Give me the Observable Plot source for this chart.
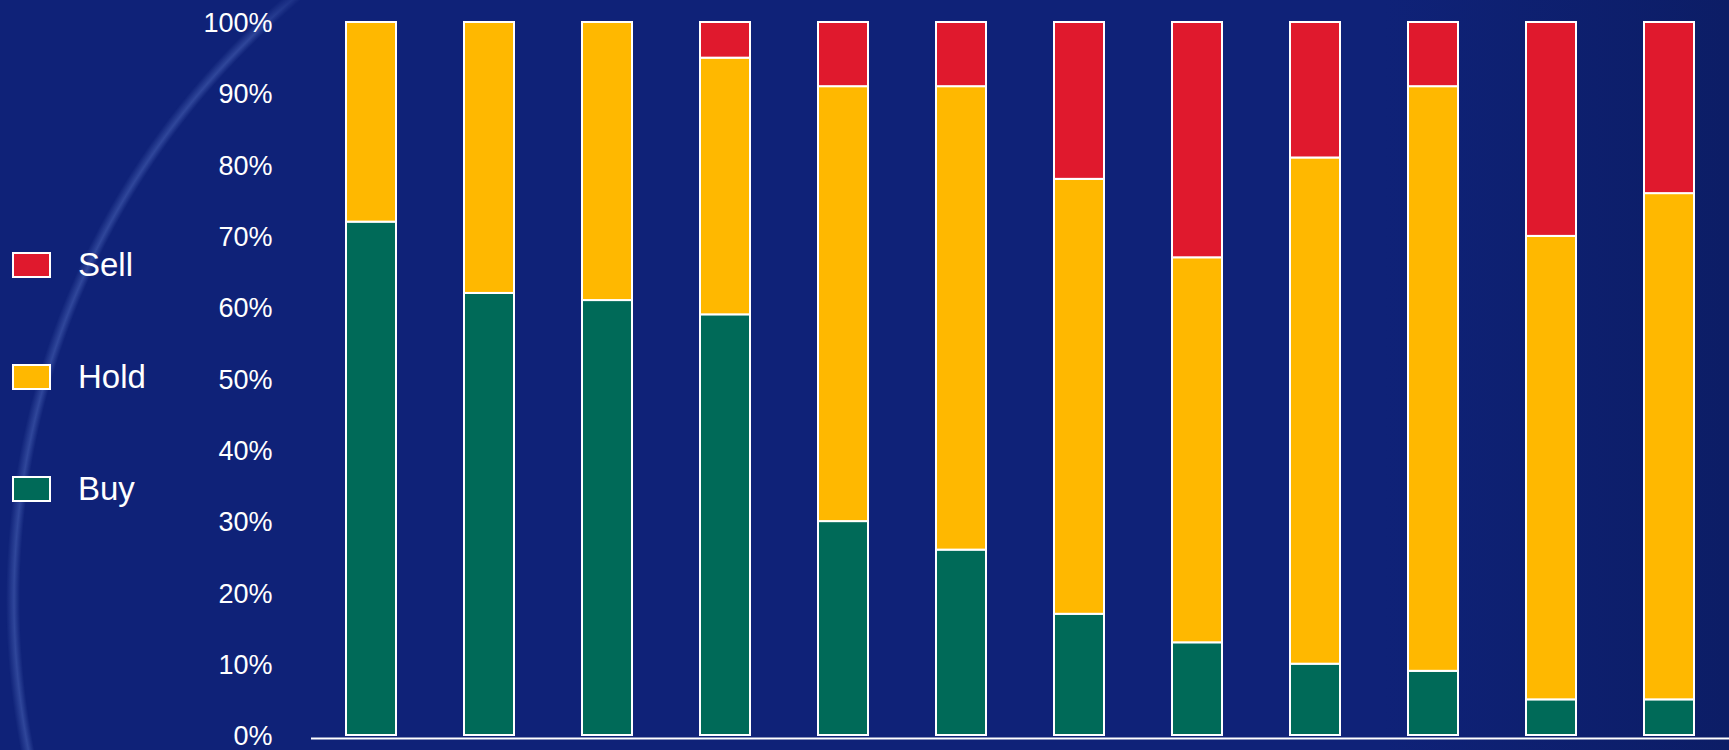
<!DOCTYPE html>
<html>
<head>
<meta charset="utf-8">
<script src="https://cdn.jsdelivr.net/npm/d3@7"></script>
<script src="https://cdn.jsdelivr.net/npm/@observablehq/plot@0.6"></script>
<style>
  html, body { margin: 0; padding: 0; width: 1729px; height: 750px; overflow: hidden; background: #0f2278; }
  #wrap { position: relative; width: 1729px; height: 750px; overflow: hidden;
    background: linear-gradient(to right, #0f2278 0%, #0f2278 80%, #0c1d66 100%);
    font-family: "Liberation Sans", Arial, sans-serif; }
  #ring { position: absolute; left: 0; top: 0; width: 1729px; height: 750px;
    background: radial-gradient(circle at 800px 600px, transparent 780px, rgba(110,140,220,0.35) 786px, transparent 794px);
    -webkit-mask-image: linear-gradient(to right, black 0px, black 250px, transparent 330px);
    mask-image: linear-gradient(to right, black 0px, black 250px, transparent 330px); }
  #chart { position: absolute; left: 0; top: 0; }
  .item { position: absolute; left: 12px; height: 27px; display: flex; align-items: center; color: #fff; font-size: 33px; }
  .sw { width: 35px; height: 22px; border: 2px solid #fff; margin-right: 27px; }
</style>
</head>
<body>
<div id="wrap">
  <div id="ring"></div>
  <div id="chart"></div>
  <div id="legend"></div>
</div>
<script>
const categories = ["1","2","3","4","5","6","7","8","9","10","11","12"];
const buy  = [72, 62, 61, 59, 30, 26, 17, 13, 10,  9,  5,  5];
const hold = [28, 38, 39, 36, 61, 65, 61, 54, 71, 82, 65, 71];
const sell = [ 0,  0,  0,  5,  9,  9, 22, 33, 19,  9, 30, 24];
const series = ["Buy", "Hold", "Sell"];
const colors = ["#006a58", "#ffb800", "#e0192d"];
const yTicks = [0, 10, 20, 30, 40, 50, 60, 70, 80, 90, 100];
const legendOrder = ["Sell", "Hold", "Buy"];
const legendTops = [251, 363, 475];

const values = {Buy: buy, Hold: hold, Sell: sell};
const data = categories.flatMap((c, i) => series.map(s => ({cat: c, series: s, value: values[s][i]})))
  .filter(d => d.value > 0);

const chart = Plot.plot({
  width: 1729,
  height: 750,
  marginLeft: 311,
  marginRight: 0,
  marginTop: 22,
  marginBottom: 15,
  style: {background: "transparent", color: "#fff", fontFamily: "'Liberation Sans', Arial, sans-serif", fontSize: "27px", overflow: "visible"},
  x: {domain: categories, paddingInner: 0.58, paddingOuter: 0.29, axis: null},
  y: {domain: [0, 100], axis: null},
  color: {domain: series, range: colors},
  marks: [
    Plot.axisY(yTicks, {tickFormat: d => d + "%", tickSize: 0, tickPadding: 39, fontSize: 27, fill: "#fff", label: null, dy: 1}),
    Plot.barY(data, {x: "cat", y: "value", fill: "series", order: series, stroke: "#fff", strokeWidth: 2}),
    Plot.ruleY([0], {stroke: "#fff", strokeWidth: 2, dy: 3})
  ]
});
document.getElementById("chart").appendChild(chart);

const legend = document.getElementById("legend");
legendOrder.forEach((s, i) => {
  const item = document.createElement("div");
  item.className = "item";
  item.style.top = legendTops[i] + "px";
  const sw = document.createElement("div");
  sw.className = "sw";
  sw.style.background = colors[series.indexOf(s)];
  const t = document.createElement("span");
  t.textContent = s;
  item.appendChild(sw);
  item.appendChild(t);
  legend.appendChild(item);
});
</script>
</body>
</html>
